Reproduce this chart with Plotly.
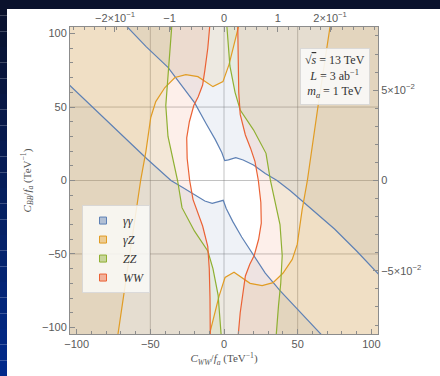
import plotly.graph_objects as go

# ---------------- data ----------------
CHANNELS = ["γγ", "γZ", "ZZ", "WW"]

# gamma-gamma: two boundary curves (allowed band in between)
B_UP_X = [-68, -52.7, -38, -28, -20, -12, -6, -1.5, 0.5, 3, 8, 13, 20, 28, 36, 45, 53, 65, 75, 90, 107]
B_UP_Y = [107, 91, 77, 64, 53, 38.5, 28, 19, 13.5, 14, 15.5, 14, 10.5, 4.8, 0, -7, -14, -24, -33, -48, -66]
B_LO_X = [-107, -90, -72, -62, -52, -44, -36, -28, -20, -13, -8, -3, -0.5, 1.5, 6, 12, 19, 28, 38, 52, 68]
B_LO_Y = [67, 51, 33.5, 24, 14.5, 7, 0, -4.8, -10, -14, -15.5, -14, -13.5, -19, -28, -38.5, -49.5, -63, -75, -90, -107]

# gamma-Z
O1_X = [-72.3, -64, -56.5, -53, -49.7, -46.3, -40.1, -33.3, -25.9, -17.7, -7.5, -0.7, 3.4, 6.8, 10.4]
O1_Y = [-107, -52, 0.5, 19.7, 42.9, 53.7, 63.3, 70.1, 72.1, 70.7, 63.9, 67.3, 78.9, 92.5, 107]
O2_X = [-10.4, -6.8, -3.4, 0.7, 6.8, 17.7, 25.9, 33.3, 40.1, 46.3, 49.7, 53, 56.5, 64, 72.3]
O2_Y = [-107, -92.5, -78.9, -66, -62.5, -70, -71.5, -69.5, -63, -53.7, -43.5, -20, -0.5, 52, 107]

# ZZ
G1_X = [-35.3, -37, -38.5, -39.5, -38, -35, -31.5, -28.5, -20, -11, -7.5, -4, -1.8]
G1_Y = [107, 85, 70, 51, 30, 15, 0, -18.5, -34.5, -48, -60, -78, -107]
G2_X = [1.8, 4, 7.5, 11, 20, 28.5, 31.5, 35, 38, 39.5, 38.5, 37, 35.3]
G2_Y = [107, 78, 60, 48, 34.5, 18.5, 0, -15, -30, -51, -70, -85, -107]

# WW
W1_X = [-9.5, -11, -13, -14.5, -17.5, -20.5, -23.5, -25.3, -25, -23.3, -21, -18, -14.5, -11, -10, -9.5, -9.3]
W1_Y = [107, 90, 75, 65, 57, 51, 40, 29, 15, 0, -13, -22, -31, -45, -60, -80, -107]
W2_X = [9.3, 9.5, 10, 11, 14.5, 18, 21, 23.3, 25, 25.3, 23.5, 20.5, 17.5, 14.5, 13, 11, 9.5]
W2_Y = [107, 80, 60, 45, 31, 22, 13, 0, -15, -29, -40, -51, -57, -65, -75, -90, -107]

AX_RANGE = [-104.5, 104.5]
MAJOR_TICKS = [-100, -50, 0, 50, 100]
GRID_VALUES = [-50, 0, 50]
TOP_TICK_POS = [-74, -37, 0, 36.5, 72]
TOP_TICK_TEXT = ["−2×10<sup>−1</sup>", "−1", "0", "1", "2×10<sup>−1</sup>"]
RIGHT_TICK_POS = [-61.5, 0, 61.5]
RIGHT_TICK_TEXT = ["−5×10<sup>−2</sup>", "0", "5×10<sup>−2</sup>"]

# ---------------- styling ----------------
RGB = {
    "γγ": (94, 129, 181),
    "γZ": (225, 156, 36),
    "ZZ": (143, 176, 50),
    "WW": (235, 98, 53),
}
FILL_ALPHA = 0.10
E = 140  # closing point beyond the frame


def rgba(c, a):
    return f"rgba({c[0]},{c[1]},{c[2]},{a})"


def rgb(c):
    return f"rgb({c[0]},{c[1]},{c[2]})"


def left_poly(xs, ys):
    return xs + [-E, -E], ys + [ys[-1], ys[0]]


def right_poly(xs, ys):
    return xs + [E, E], ys + [ys[-1], ys[0]]


regions = [
    ("γγ", (B_UP_X + [E], B_UP_Y + [E])),
    ("γγ", (B_LO_X + [-E], B_LO_Y + [-E])),
    ("γZ", left_poly(O1_X, O1_Y)),
    ("γZ", right_poly(O2_X, O2_Y)),
    ("ZZ", left_poly(G1_X, G1_Y)),
    ("ZZ", right_poly(G2_X, G2_Y)),
    ("WW", left_poly(W1_X, W1_Y)),
    ("WW", right_poly(W2_X, W2_Y)),
]
curves = [
    ("γγ", B_UP_X, B_UP_Y), ("γγ", B_LO_X, B_LO_Y),
    ("γZ", O1_X, O1_Y), ("γZ", O2_X, O2_Y),
    ("ZZ", G1_X, G1_Y), ("ZZ", G2_X, G2_Y),
    ("WW", W1_X, W1_Y), ("WW", W2_X, W2_Y),
]

fig = go.Figure()
for ch, (px, py) in regions:
    fig.add_trace(go.Scatter(x=px, y=py, mode="lines", fill="toself",
                             fillcolor=rgba(RGB[ch], FILL_ALPHA),
                             line=dict(width=0), hoverinfo="skip", showlegend=False))
for ch, cx, cy in curves:
    fig.add_trace(go.Scatter(x=cx, y=cy, mode="lines",
                             line=dict(color=rgb(RGB[ch]), width=1.2),
                             hoverinfo="skip", showlegend=False))
for ch in CHANNELS:
    fig.add_trace(go.Scatter(x=[None], y=[None], mode="markers", name=f"<i>{ch}</i>",
                             marker=dict(symbol="square", size=7, color=rgba(RGB[ch], 0.45),
                                         line=dict(color=rgb(RGB[ch]), width=1))))
# carrier for the secondary (top/right) axes
fig.add_trace(go.Scatter(x=[None], y=[None], xaxis="x2", yaxis="y2", showlegend=False,
                         hoverinfo="skip"))

FRAME = "#8c8c8c"
TICKFONT = dict(family="Liberation Sans, Arial, sans-serif", size=11, color="#5a5a5a")
SERIF = "Liberation Serif, DejaVu Serif, serif"

common = dict(range=AX_RANGE, showline=True, linecolor=FRAME, linewidth=1, mirror=False,
              ticks="inside", ticklen=5, tickcolor=FRAME, zeroline=False, showgrid=False,
              tickfont=TICKFONT, automargin=False, fixedrange=True)

fig.update_layout(
    width=440, height=376,
    margin=dict(l=70, r=62, t=27, b=42),
    paper_bgcolor="white", plot_bgcolor="white",
    xaxis=dict(**common, tickmode="array", tickvals=MAJOR_TICKS,
               minor=dict(dtick=10, tick0=0, ticks="inside", ticklen=3, tickcolor=FRAME, showgrid=False),
               title=dict(text="<i>C</i><sub><i>WW</i></sub>/<i>f</i><sub><i>a</i></sub> (TeV<sup>−1</sup>)",
                          font=dict(family=SERIF, size=11, color="#555"), standoff=5)),
    yaxis=dict(**common, tickmode="array", tickvals=MAJOR_TICKS,
               minor=dict(dtick=10, tick0=0, ticks="inside", ticklen=3, tickcolor=FRAME, showgrid=False),
               title=dict(text="<i>C</i><sub><i>BB</i></sub>/<i>f</i><sub><i>a</i></sub> (TeV<sup>−1</sup>)",
                          font=dict(family=SERIF, size=11, color="#555"), standoff=8)),
    xaxis2=dict(**common, overlaying="x", side="top", anchor="y2", tickmode="array",
                tickvals=TOP_TICK_POS, ticktext=TOP_TICK_TEXT,
                minor=dict(tickmode="linear", dtick=7.3, tick0=0, ticks="inside", ticklen=3,
                           tickcolor=FRAME, showgrid=False)),
    yaxis2=dict(**common, overlaying="y", side="right", anchor="x2", tickmode="array",
                tickvals=RIGHT_TICK_POS, ticktext=RIGHT_TICK_TEXT,
                minor=dict(tickmode="linear", dtick=12.3, tick0=0, ticks="inside", ticklen=3,
                           tickcolor=FRAME, showgrid=False)),
    legend=dict(x=0.039, y=0.42, xanchor="left", yanchor="top",
                bgcolor="rgba(250,250,248,0.85)", bordercolor="rgba(215,215,215,0.9)", borderwidth=1,
                font=dict(family=SERIF, size=12, color="#333"), itemwidth=30, tracegroupgap=0),
    showlegend=True,
)

# grid lines
for g in GRID_VALUES:
    fig.add_shape(type="line", xref="x", yref="paper", x0=g, x1=g, y0=0, y1=1,
                  line=dict(color="rgba(120,120,120,0.45)", width=1), layer="below")
    fig.add_shape(type="line", xref="paper", yref="y", x0=0, x1=1, y0=g, y1=g,
                  line=dict(color="rgba(120,120,120,0.45)", width=1), layer="below")

# slide background strips (top band and left gradient strip)
PW, PH = 308.0, 307.0
def px_x(p):
    return (p - 70) / PW
def px_y(p):
    return (334 - p) / PH

fig.add_shape(type="rect", xref="paper", yref="paper", x0=px_x(0), x1=px_x(440),
              y0=px_y(9), y1=px_y(0), fillcolor="rgb(10,18,44)", line=dict(width=0), layer="below")
NSEG = 24
top_c, bot_c = (10, 18, 44), (2, 42, 138)
for i in range(NSEG):
    t = i / (NSEG - 1)
    c = tuple(int(round(top_c[k] + (bot_c[k] - top_c[k]) * t)) for k in range(3))
    fig.add_shape(type="rect", xref="paper", yref="paper", x0=px_x(0), x1=px_x(7),
                  y0=px_y(376 * (i + 1) / NSEG), y1=px_y(376 * i / NSEG),
                  fillcolor=rgb(c), line=dict(width=0), layer="below")

# info box
fig.add_annotation(xref="paper", yref="paper", x=0.86, y=0.84, xanchor="center", yanchor="middle",
                   text="√<span style='text-decoration:overline'><i>s</i></span> = 13 TeV<br>"
                        "<i>L</i> = 3 ab<sup>−1</sup><br><i>m</i><sub><i>a</i></sub> = 1 TeV",
                   showarrow=False, align="center",
                   font=dict(family=SERIF, size=12, color="#333"),
                   bgcolor="rgba(250,250,248,0.9)", bordercolor="rgba(215,215,215,0.9)",
                   borderwidth=1, borderpad=4)

fig.write_html("out.html")
